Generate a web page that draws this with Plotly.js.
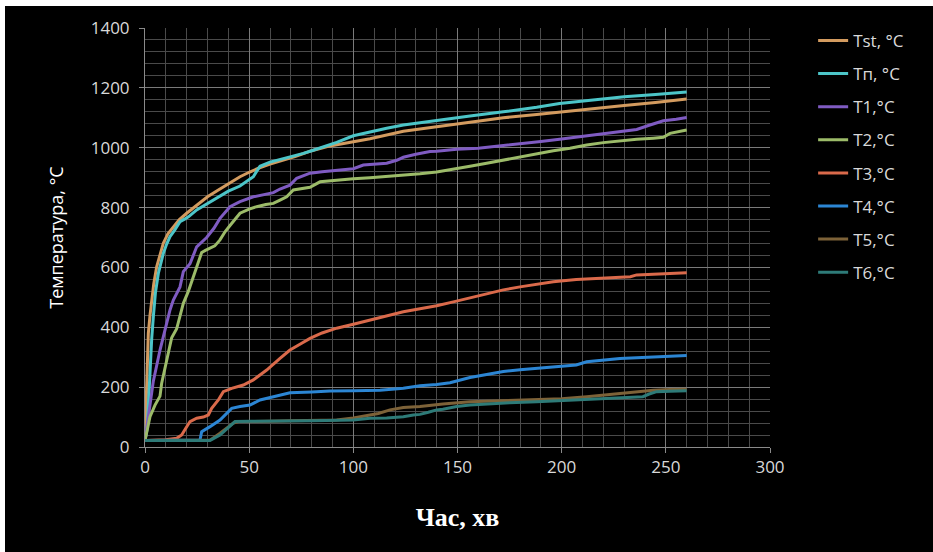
<!DOCTYPE html>
<html>
<head>
<meta charset="utf-8">
<script src="https://cdn.plot.ly/plotly-3.0.1.min.js"></script>
<style>
html,body{margin:0;padding:0;background:#ffffff;width:933px;height:552px;overflow:hidden;}
#chart{position:absolute;left:5px;top:6px;width:928px;height:546px;background:#000;}
</style>
</head>
<body>
<div id="chart"></div>
<script>
// Legend labels
const seriesNames = ["Tst, °C", "Tп, °C", "T1,°C", "T2,°C", "T3,°C", "T4,°C", "T5,°C", "T6,°C"];
const seriesColors = ["#D39B5F", "#4CC5C8", "#7F5BC2", "#9CBB69", "#DA6A4B", "#2C86D4", "#7D6238", "#2E7B78"];

// Time, min
const tTst = [0, 0.5, 1, 1.6, 2.4, 3.2, 4.2, 5.6, 7, 8.8, 11, 13.6, 16.5, 20, 23.5, 27.2, 30, 35, 40, 45.6, 50, 55, 60, 65, 72, 80, 88, 100, 108, 124, 140, 156, 172, 188, 200, 215, 230, 245, 260];
const Tst  = [22, 150, 260, 380, 440, 491, 545, 602, 640, 681, 712, 736, 760, 781, 800, 820, 836, 858, 880, 903, 918, 933, 945, 955, 970, 990, 1005, 1020, 1030, 1055, 1070, 1086, 1100, 1111, 1120, 1131, 1141, 1151, 1163];

const tTn = [0, 1, 1.6, 2.4, 3.2, 4, 5, 6.4, 7.5, 8.8, 10.4, 12, 14, 16.8, 19.2, 21, 24.8, 29.6, 35, 40, 45.6, 49.6, 52, 53.5, 55.2, 60, 65, 70, 76, 80, 85.6, 92, 100, 108, 116, 124, 140, 156, 172, 188, 199, 215, 230, 245, 260];
const Tn  = [22, 60, 135, 268, 360, 435, 515, 580, 615, 647, 678, 703, 722, 753, 762, 770, 792, 812, 835, 855, 872, 890, 903, 920, 938, 952, 961, 968, 981, 990, 1003, 1018, 1040, 1053, 1065, 1076, 1092, 1106, 1120, 1135, 1148, 1160, 1170, 1178, 1186];

const tT1 = [0, 1.6, 4, 7.2, 9.6, 12, 13.6, 16.8, 18.4, 21.6, 24.8, 29.6, 33, 36, 40.8, 45.6, 52, 58.4, 61.6, 64.8, 69.6, 72.8, 79.2, 85, 92, 100, 104.8, 112, 116, 120.8, 124, 130, 136.8, 140, 149.6, 160, 170, 180, 190, 199, 210, 220, 230, 236, 242, 248.8, 255, 260];
const T1  = [22, 101, 220, 324, 391, 458, 491, 535, 586, 612, 669, 700, 730, 764, 803, 820, 836, 845, 850, 862, 875, 898, 915, 920, 925, 930, 942, 946, 948, 958, 968, 978, 987, 988, 995, 998, 1005, 1014, 1021, 1028, 1038, 1048, 1055, 1061, 1075, 1090, 1095, 1101];

const tT2 = [0, 2.4, 4.8, 7.2, 8, 10.4, 12.8, 15.2, 18.4, 20.8, 23.2, 25, 27.2, 29, 31.2, 33.5, 36, 38.5, 40.8, 43, 45.6, 50, 53.6, 58, 61.6, 64.8, 68, 71.2, 79.2, 84, 92, 100, 108, 116, 124, 132, 140, 151, 156, 164, 172, 180, 188, 196, 204, 212, 220, 228, 236, 244, 248.8, 252, 256, 260];
const T2  = [22, 101, 140, 170, 213, 285, 365, 395, 480, 520, 570, 610, 650, 657, 664, 672, 692, 720, 740, 760, 781, 795, 803, 810, 814, 825, 836, 859, 868, 886, 892, 896, 900, 904, 909, 913, 919, 931, 938, 948, 959, 970, 981, 990, 998, 1009, 1017, 1023, 1028, 1032, 1035, 1048, 1053, 1059];

const tT3 = [0, 10, 15.2, 17.6, 19.5, 21.6, 24.8, 28, 30.4, 32, 35.2, 37.6, 41.6, 47.2, 52, 58.4, 64.8, 69.6, 75, 79.2, 85, 92, 100, 108, 116, 124, 132, 140, 148, 156, 164, 172, 180, 188, 196, 207, 220, 233, 236, 244, 252, 260];
const T3  = [22, 24, 29, 40, 62, 85, 96, 100, 107, 129, 157, 185, 196, 207, 224, 257, 296, 324, 346, 363, 381, 397, 410, 424, 438, 452, 462, 472, 485, 498, 512, 525, 535, 544, 552, 560, 564, 569, 575, 578, 580, 582];

const tT4 = [0, 26.4, 27.2, 29, 31.2, 36, 40, 41.6, 45.6, 50.4, 55.2, 61.6, 64.8, 69.6, 80, 88.8, 100, 112.8, 124, 132, 140, 146.4, 156, 164, 172, 180, 188, 198, 207, 212, 220, 228, 236, 244, 252, 260];
const T4  = [22, 23, 51, 60, 68, 90, 118, 129, 135, 140, 157, 168, 174, 181, 184, 187, 188, 190, 196, 205, 209, 215, 232, 243, 252, 258, 263, 268, 274, 285, 291, 296, 298, 300, 303, 306];

const tT5 = [0, 31.2, 36, 39.2, 42.4, 45, 50, 60, 70, 80, 92, 100, 108, 112, 117.6, 120.8, 124, 132, 143, 156, 170, 188, 200, 212, 220, 228, 236, 244, 252, 260];
const T5  = [22, 23, 46, 62, 80, 85, 85, 86, 88, 89, 90, 97, 107, 112, 124, 129, 132, 135, 144, 151, 154, 157, 161, 168, 173, 179, 184, 190, 192, 193];

const tT6 = [0, 31.2, 36, 40.8, 43.2, 50, 60, 80, 100, 108, 116, 124, 128.8, 132, 136, 140, 143, 149.6, 156, 164, 175, 188, 200, 212, 225, 239, 242, 245.6, 252, 260];
const T6  = [22, 22, 40, 68, 85, 86, 86, 88, 90, 96, 97, 101, 107, 109, 116, 124, 126, 135, 140, 144, 148, 151, 155, 159, 163, 168, 177, 185, 186, 188];

const xs = [tTst, tTn, tT1, tT2, tT3, tT4, tT5, tT6];
const ys = [Tst, Tn, T1, T2, T3, T4, T5, T6];

const traces = xs.map((x, i) => ({
  type: 'scatter', mode: 'lines', x: x, y: ys[i],
  name: seriesNames[i], legendgroup: 'g' + i,
  line: {color: seriesColors[i], width: 3}
}));

const font = "'Open Sans', 'DejaVu Sans', sans-serif";
const layout = {
  width: 928, height: 546,
  paper_bgcolor: '#000000', plot_bgcolor: '#000000',
  margin: {l: 140, r: 163, t: 22, b: 105},
  font: {family: font, color: '#D9D9D9', size: 17},
  showlegend: true,
  legend: {
    x: 1.069, xanchor: 'left', y: 1.012, yanchor: 'top',
    font: {family: font, size: 17, color: '#D9D9D9'},
    bgcolor: 'rgba(0,0,0,0)', tracegroupgap: 8, traceorder: 'grouped'
  },
  xaxis: {
    range: [0, 300], dtick: 50, tick0: 0,
    showgrid: true, gridcolor: '#7a7a7a', gridwidth: 1,
    minor: {dtick: 10, showgrid: true, gridcolor: '#4a4a4a', gridwidth: 1},
    showline: true, linecolor: '#8a8a8a', linewidth: 1,
    ticks: 'outside', ticklen: 5, tickcolor: '#8a8a8a',
    tickfont: {family: font, size: 17, color: '#D9D9D9'},
    zeroline: false,
    title: {text: 'Час, хв', standoff: 30,
      font: {family: "'Liberation Serif', 'DejaVu Serif', serif", size: 26, color: '#FFFFFF', weight: 'bold'}}
  },
  yaxis: {
    range: [0, 1400], dtick: 200, tick0: 0,
    showgrid: true, gridcolor: '#7a7a7a', gridwidth: 1,
    minor: {dtick: 40, showgrid: true, gridcolor: '#4a4a4a', gridwidth: 1},
    showline: true, linecolor: '#8a8a8a', linewidth: 1,
    ticks: 'outside', ticklen: 5, tickcolor: '#8a8a8a',
    tickfont: {family: font, size: 17, color: '#D9D9D9'},
    zeroline: false, ticklabelstandoff: 6,
    title: {text: 'Температура, °С', standoff: 22,
      font: {family: font, size: 18, color: '#FFFFFF'}}
  }
};

Plotly.newPlot('chart', traces, layout, {displayModeBar: false, staticPlot: true});
</script>
</body>
</html>
